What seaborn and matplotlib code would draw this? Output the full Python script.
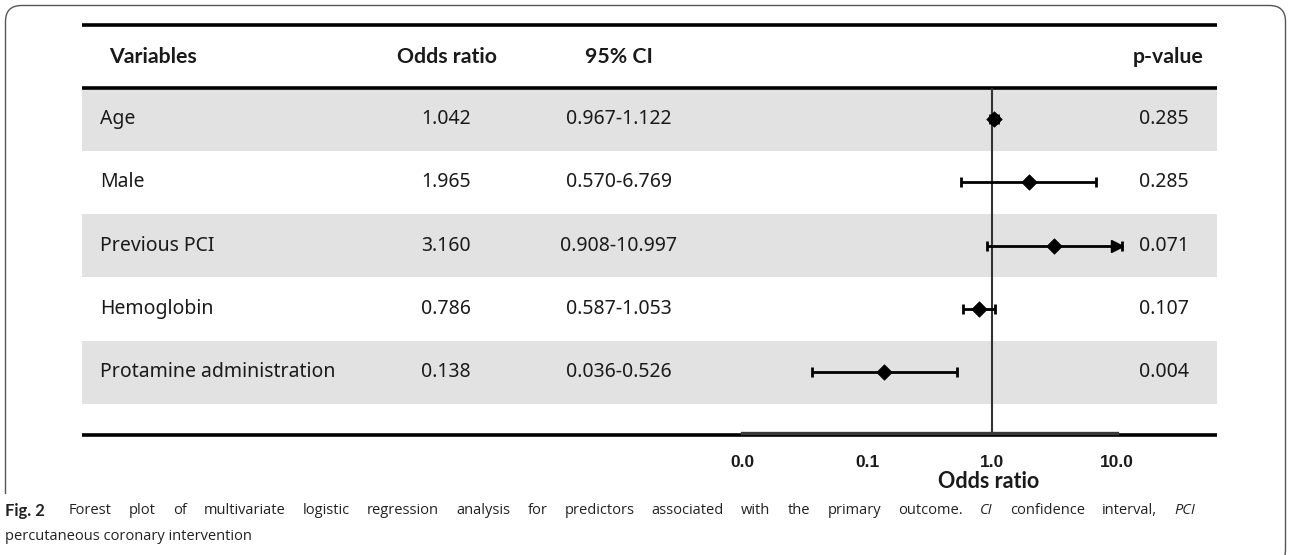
import numpy as np
import pandas as pd
import matplotlib
matplotlib.use("Agg")
import matplotlib.pyplot as plt
import matplotlib.transforms as mtrans
from matplotlib.patches import FancyBboxPatch, Rectangle
import seaborn as sns

# ---------------- data ----------------
variables = ["Age", "Male", "Previous PCI", "Hemoglobin", "Protamine administration"]
odds_ratio = [1.042, 1.965, 3.160, 0.786, 0.138]
ci_low = [0.967, 0.570, 0.908, 0.587, 0.036]
ci_high = [1.122, 6.769, 10.997, 1.053, 0.526]
p_values = ["0.285", "0.285", "0.071", "0.107", "0.004"]
headers = ["Variables", "Odds ratio", "95% CI", "p-value"]
tick_values = [0.01, 0.1, 1.0, 10.0]
tick_labels = ["0.0", "0.1", "1.0", "10.0"]
axis_label = "Odds ratio"
caption_label = "Fig. 2"
caption_words = ("Forest plot of multivariate logistic regression analysis for predictors "
                 "associated with the primary outcome. |CI| confidence interval, |PCI|").split(" ")
caption_line2 = "percutaneous coronary intervention"

df = pd.DataFrame({"variable": variables, "odds": odds_ratio,
                   "lo": ci_low, "hi": ci_high, "row": np.arange(len(variables))})

sns.set_theme(style="white")
plt.rcParams["font.family"] = ["Noto Sans", "DejaVu Sans"]
BOLD = ["Lato", "Liberation Sans", "DejaVu Sans"]

W, H = 1292, 555
fig = plt.figure(figsize=(W / 100, H / 100), dpi=100)

# background axes in pixel coordinates
bg = fig.add_axes([0, 0, 1, 1])
bg.set_xlim(0, W)
bg.set_ylim(H, 0)
bg.axis("off")

x0, x1 = 82, 1217
row_top, row_h = 87.5, 63.3
n = len(variables)
shade = "#e2e2e2"
txt = "#1a1a1a"

# frame
frame = FancyBboxPatch((5.5, 5.5), 1280, 560, boxstyle="round,pad=0,rounding_size=16",
                       fill=False, ec="#555555", lw=1.0, transform=bg.transData, zorder=1)
bg.add_patch(frame)

# row shading
for i in range(n):
    if i % 2 == 0:
        bg.add_patch(Rectangle((x0, row_top + i * row_h), x1 - x0, row_h,
                               fc=shade, ec="none", zorder=2))

# lines
for yl in (25, row_top, 435):
    bg.plot([x0, x1], [yl, yl], color="black", lw=2.6, solid_capstyle="butt", zorder=3)

# headers
hy = 57
fs_h = 15.3
bg.text(109, hy, headers[0], fontsize=fs_h, fontweight="bold", family=BOLD, color=txt, va="center", ha="left", zorder=5)
bg.text(447, hy, headers[1], fontsize=fs_h, fontweight="bold", family=BOLD, color=txt, va="center", ha="center", zorder=5)
bg.text(619, hy, headers[2], fontsize=fs_h, fontweight="bold", family=BOLD, color=txt, va="center", ha="center", zorder=5)
bg.text(1203, hy, headers[3], fontsize=fs_h, fontweight="bold", family=BOLD, color=txt, va="center", ha="right", zorder=5)

# rows
fs_r = 14
for i in range(n):
    yc = row_top + (i + 0.5) * row_h
    bg.text(100, yc, variables[i], fontsize=fs_r, color=txt, va="center", ha="left", zorder=5)
    bg.text(446, yc, f"{odds_ratio[i]:.3f}", fontsize=fs_r, color=txt, va="center", ha="center", zorder=5)
    bg.text(619, yc, f"{ci_low[i]:.3f}-{ci_high[i]:.3f}", fontsize=fs_r, color=txt, va="center", ha="center", zorder=5)
    bg.text(1164, yc, p_values[i], fontsize=fs_r, color=txt, va="center", ha="center", zorder=5)

# ---------------- forest axes ----------------
fx0, fx1 = 742, 1117
fy_top, fy_bot = row_top, 432.5
ax = fig.add_axes([fx0 / W, (H - fy_bot) / H, (fx1 - fx0) / W, (fy_bot - fy_top) / H])
ax.patch.set_alpha(0)
ax.set_xscale("log")
ax.set_xlim(tick_values[0], tick_values[-1])
ax.set_ylim(-0.5 + (fy_bot - fy_top) / row_h, -0.5)
for s in ["top", "left", "right"]:
    ax.spines[s].set_visible(False)
ax.spines["bottom"].set_color("#3a3a3a")
ax.spines["bottom"].set_linewidth(2.4)
ax.spines["bottom"].set_zorder(4)
ax.set_yticks([])
ax.xaxis.set_minor_locator(matplotlib.ticker.NullLocator())
ax.set_xticks(tick_values)
ax.set_xticklabels(tick_labels)
ax.tick_params(axis="x", length=0, pad=16)
for lab in ax.get_xticklabels():
    lab.set_fontfamily(["Liberation Sans", "DejaVu Sans"])
    lab.set_fontweight("bold")
    lab.set_fontsize(12.5)
    lab.set_color(txt)

ax.axvline(1.0, color="#333333", lw=1.5, zorder=3)

ax.errorbar(df["odds"], df["row"],
            xerr=[df["odds"] - df["lo"], df["hi"] - df["odds"]],
            fmt="none", ecolor="black", elinewidth=2.0, capsize=3.8, capthick=2.0,
            zorder=5, clip_on=False)
sns.scatterplot(data=df, x="odds", y="row", marker="D", s=62, color="black",
                edgecolor="black", linewidth=0.5, ax=ax, zorder=6, clip_on=False, legend=False)
ax.set_xlabel("")
ax.set_ylabel("")

# arrow heads for intervals beyond the axis range
off = mtrans.offset_copy(ax.transData, fig=fig, x=-5.5, y=0, units="dots")
over = df[df["hi"] > tick_values[-1]]
ax.plot(over["hi"], over["row"], marker=">", ms=8, color="black", ls="none",
        transform=off, clip_on=False, zorder=6)

# axis label
bg.text(989, 481, axis_label, fontsize=15.5, fontweight="bold", family=BOLD, color=txt,
        ha="center", va="center", zorder=5)

# ---------------- caption (justified first line) ----------------
bg.add_patch(Rectangle((0, 494), 1250, 70, fc="white", ec="none", zorder=4))
cap_font = ["Open Sans", "DejaVu Sans"]
cap_fs = 10.5
cap_col = "#222222"
line1_left, line1_right, cy1, cy2 = 5, 1195, 511, 537
fig.canvas.draw()
renderer = fig.canvas.get_renderer()

items = [(caption_label, "bold", "normal", BOLD, 12.0)]
for w in caption_words:
    if w.startswith("|"):
        items.append((w.strip("|"), "normal", "italic", cap_font, cap_fs))
    else:
        items.append((w, "normal", "normal", cap_font, cap_fs))
artists, widths = [], []
for text, weight, style, fam, fsz in items:
    t = bg.text(0, cy1, text, fontsize=fsz, fontweight=weight, fontstyle=style,
                family=fam, color=cap_col, ha="left", va="center", zorder=6)
    widths.append(t.get_window_extent(renderer=renderer).width)
    artists.append(t)
gap_weights = [1.4] + [1.0] * (len(items) - 2)
free = (line1_right - line1_left) - sum(widths)
unit = free / sum(gap_weights)
cx = line1_left
for k, t in enumerate(artists):
    t.set_x(cx)
    cx += widths[k]
    if k < len(gap_weights):
        cx += unit * gap_weights[k]
bg.text(line1_left, cy2, caption_line2, fontsize=cap_fs, family=cap_font, color=cap_col,
        ha="left", va="center", zorder=6)

fig.savefig("out.png", dpi=100)
